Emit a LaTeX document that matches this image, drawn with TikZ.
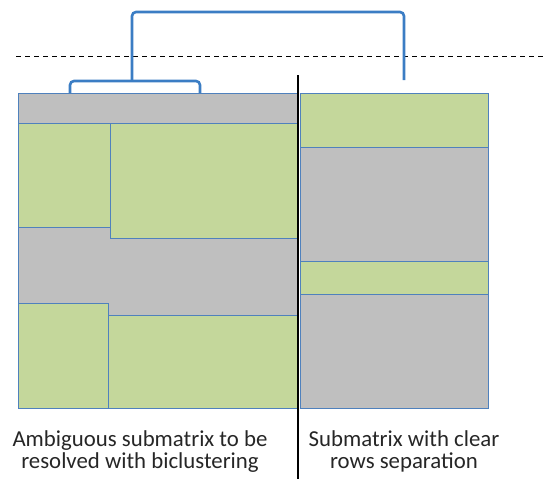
\documentclass[tikz,border=0pt]{standalone}
\usepackage{fontspec}
\setmainfont{Carlito}
\usepackage{xcolor}
\usetikzlibrary{shadows}
\definecolor{cellgray}{HTML}{BFBFBF}
\definecolor{cellgreen}{HTML}{C4D79B}
\definecolor{cellblue}{HTML}{4F81BD}
\definecolor{linkblue}{HTML}{3B7DC4}

\begin{document}
\begin{tikzpicture}[x=1pt,y=-1pt,
    block/.style={draw=cellblue,line width=0.8pt},
    grayblock/.style={block,fill=cellgray},
    greenblock/.style={block,fill=cellgreen,drop shadow={opacity=0.25,shadow xshift=0.6pt,shadow yshift=-1.2pt}},
    link/.style={draw=linkblue,line width=2.6pt,rounded corners=4pt},
    caption/.style={font=\fontsize{22.8}{21.5}\selectfont,align=center,text=black!85}]
  \useasboundingbox (0,0) rectangle (546,479);
  % left submatrix
  \path[grayblock] (18,93) rectangle (298,408);
  \path[greenblock] (18,123) rectangle (110,227);
  \path[greenblock] (110,123) rectangle (297,238);
  \path[greenblock] (18,303) rectangle (108,408);
  \path[greenblock] (108,315) rectangle (297,408);
  % right submatrix
  \path[grayblock] (300,93) rectangle (488,408);
  \path[greenblock] (300,93) rectangle (488,147);
  \path[greenblock] (300,261) rectangle (488,294);
  \draw[dashed,dash pattern=on 5pt off 4pt,line width=0.7pt] (16,56) -- (546,56);
  \coordinate (sl) at (70,93);
  \coordinate (sr) at (200,93);
  \coordinate (tl) at (132,81);
  \coordinate (tr) at (404,80);
  \draw[link] (sl) -- (70,81) -- (200,81) -- (sr);
  \draw[link] (tl) -- (132,12) -- (404,12) -- (tr);
  \draw[line width=2.4pt] (298,75) -- (298,479);
  \node[caption,anchor=base] (amb) at (140,468) {Ambiguous submatrix to be\\resolved with biclustering};
  \node[caption,anchor=base] (sep) at (404,468) {Submatrix with clear\\rows separation};
\end{tikzpicture}
\end{document}
